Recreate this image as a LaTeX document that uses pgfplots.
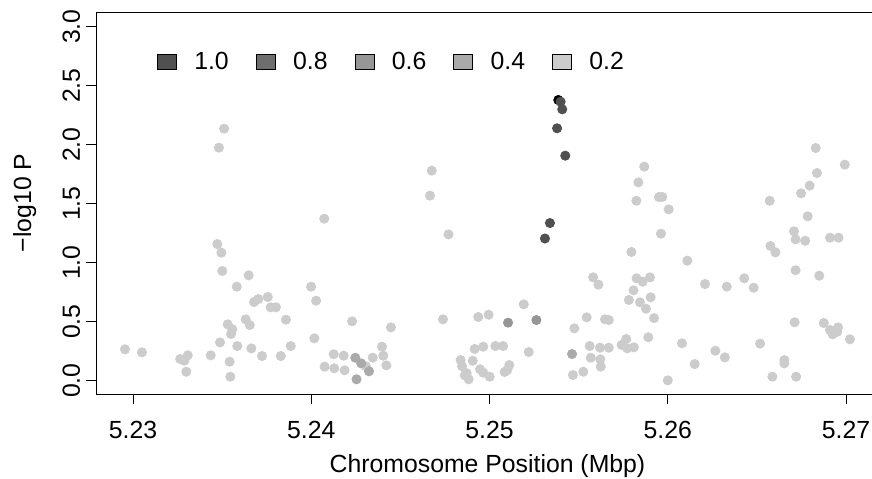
\documentclass[border=0pt]{standalone}
\usepackage{fontspec}
\setmainfont{Liberation Sans}
\usepackage{pgfplots}
\pgfplotsset{compat=1.18}

% LD bin colours
\definecolor{ld10}{HTML}{505050}
\definecolor{ld08}{HTML}{6E6E6E}
\definecolor{ld06}{HTML}{969696}
\definecolor{ld04}{HTML}{AAAAAA}
\definecolor{ld02}{HTML}{CCCCCC}

\pgfplotsset{
  dots/.style={only marks, mark=*, mark size=2.3pt, forget plot,
    color=#1, mark options={solid, line width=0.4pt, draw=#1, fill=#1}},
}

\begin{document}
\begin{tikzpicture}[font=\fontsize{12.4}{14.9}\selectfont]
\begin{axis}[
  at={(48pt,42pt)}, anchor=south west,
  scale only axis, width=391.5pt, height=191pt,
  xmin=5.227924, xmax=5.271851,
  ymin=-0.1127, ymax=3.1246,
  axis line style={line width=0.5pt},
  tick align=outside, major tick length=5pt,
  tick style={line width=0.5pt, black},
  xtick pos=bottom, ytick pos=left,
  xtick={5.23,5.24,5.25,5.26,5.27},
  xticklabels={5.23,5.24,5.25,5.26,5.27},
  ytick={0,0.5,1,1.5,2,2.5,3},
  yticklabels={0.0,0.5,1.0,1.5,2.0,2.5,3.0},
  xticklabel style={anchor=north, inner sep=0pt},
  yticklabel style={rotate=90, anchor=base, inner sep=0pt},
  xticklabel shift=8.25pt, yticklabel shift=3pt,
  xlabel={Chromosome Position (Mbp)},
  ylabel={−log10 P},
  xlabel style={at={(axis description cs:0.5,-0.2042)}, anchor=base, inner sep=0pt},
  ylabel style={at={(axis description cs:-0.083,0.5)}, anchor=base, inner sep=0pt},
  legend columns=5,
  legend cell align=left,
  legend style={at={(0.0779,0.869)}, anchor=west, draw=none, fill=none,
    inner sep=0pt, outer sep=0pt, nodes={inner sep=0pt},
    /tikz/every odd column/.style={column sep=8.75pt},
    /tikz/every even column/.style={column sep=13.5pt}},
  legend image code/.code={\draw[#1, draw=black, line width=0.4pt] (0pt,-3.75pt) rectangle (9.5pt,3.75pt);},
]

\addlegendimage{fill=ld10}\addlegendentry{1.0}
\addlegendimage{fill=ld08}\addlegendentry{0.8}
\addlegendimage{fill=ld06}\addlegendentry{0.6}
\addlegendimage{fill=ld04}\addlegendentry{0.4}
\addlegendimage{fill=ld02}\addlegendentry{0.2}

% r2 < 0.2
\addplot[dots=ld02] table {
x y
5.22955 0.266
5.23050 0.240
5.23265 0.184
5.23288 0.170
5.23307 0.215
5.23299 0.076
5.23436 0.215
5.23473 1.158
5.23496 1.085
5.23501 0.930
5.23482 1.975
5.23511 2.136
5.23488 0.325
5.23531 0.478
5.23557 0.436
5.23550 0.396
5.23542 0.161
5.23546 0.034
5.23585 0.294
5.23582 0.797
5.23649 0.893
5.23632 0.520
5.23655 0.472
5.23664 0.274
5.23679 0.667
5.23703 0.692
5.23756 0.709
5.23772 0.622
5.23802 0.622
5.23724 0.209
5.23858 0.517
5.23829 0.209
5.23885 0.294
5.23999 0.797
5.24027 0.678
5.24017 0.359
5.24073 1.373
5.24229 0.503
5.24075 0.119
5.24126 0.224
5.24129 0.105
5.24182 0.212
5.24187 0.088
5.24307 0.122
5.24345 0.195
5.24397 0.288
5.24404 0.212
5.24421 0.130
5.24447 0.452
5.24676 1.780
5.24666 1.568
5.24770 1.240
5.24739 0.520
5.24937 0.540
5.24995 0.559
5.25192 0.647
5.24917 0.269
5.24965 0.288
5.25033 0.294
5.25076 0.294
5.25220 0.243
5.24838 0.175
5.24846 0.122
5.24906 0.169
5.24861 0.046
5.24883 0.012
5.24872 0.063
5.24947 0.097
5.24965 0.068
5.25001 0.034
5.25085 0.074
5.25111 0.133
5.25100 0.091
5.25476 0.444
5.25545 0.537
5.25648 0.520
5.25669 0.514
5.25562 0.294
5.25620 0.280
5.25669 0.280
5.25568 0.195
5.25622 0.181
5.25624 0.119
5.25468 0.048
5.25526 0.076
5.25581 0.876
5.25611 0.814
5.25741 0.303
5.25767 0.353
5.25773 0.274
5.25810 0.283
5.25891 0.368
5.25796 1.091
5.25825 0.868
5.25859 0.839
5.25900 0.876
5.25808 0.766
5.25782 0.684
5.25844 0.664
5.25904 0.707
5.25878 0.610
5.25923 0.531
5.25868 1.814
5.25835 1.681
5.25824 1.525
5.25951 1.557
5.25969 1.557
5.26005 1.452
5.25962 1.246
5.26000 0.003
5.26080 0.317
5.26110 1.017
5.26151 0.141
5.26209 0.819
5.26267 0.254
5.26320 0.198
5.26331 0.797
5.26429 0.868
5.26482 0.788
5.26518 0.314
5.26572 1.525
5.26576 1.142
5.26604 1.088
5.26654 0.175
5.26654 0.147
5.26587 0.034
5.26720 0.034
5.26712 0.495
5.26717 0.936
5.26708 1.266
5.26717 1.198
5.26771 1.186
5.26785 1.393
5.26748 1.588
5.26796 1.653
5.26837 1.760
5.26830 1.972
5.26850 0.890
5.26875 0.489
5.26910 0.430
5.26925 0.393
5.26955 0.452
5.26951 0.415
5.26910 1.212
5.26958 1.212
5.26993 1.831
5.27022 0.351
};

% 0.2 - 0.4
\addplot[dots=ld04] table {
x y
5.24247 0.195
5.24280 0.147
5.24324 0.080
5.24254 0.012
5.25463 0.226
};

% 0.4 - 0.6
\addplot[dots=ld06] table {
x y
5.25104 0.492
5.25263 0.514
};

% index SNP
\addplot[dots=black] table {
x y
5.25386 2.379
};

% 0.8 - 1.0
\addplot[dots=ld10] table {
x y
5.25399 2.364
5.25408 2.300
5.25379 2.139
5.25425 1.907
5.25339 1.336
5.25311 1.205
};

\end{axis}
\pgfresetboundingbox
\useasboundingbox (0,0) rectangle (436pt,239pt);
\end{tikzpicture}
\end{document}
